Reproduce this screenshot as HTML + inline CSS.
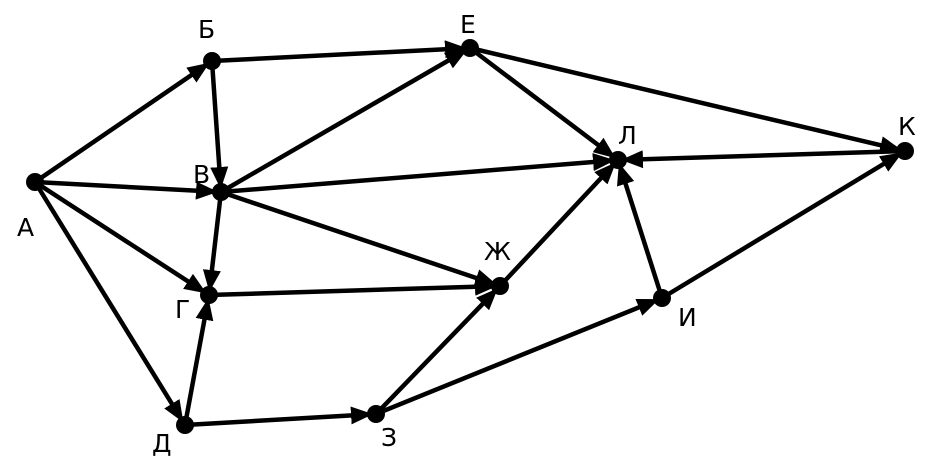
<!DOCTYPE html>
<html><head><meta charset="utf-8"><style>
html,body{margin:0;padding:0;background:#fff;}
svg{display:block}
text{font-family:"DejaVu Sans","Liberation Sans",sans-serif;font-size:25px;fill:#000}
</style></head><body>
<svg width="929" height="466" viewBox="0 0 929 466">
<defs>
<marker id="a" markerUnits="userSpaceOnUse" markerWidth="30" markerHeight="18" refX="25" refY="9" orient="auto">
<path d="M0,0 L22,9 L0,18 Z" fill="#000"/>
</marker>
</defs>
<g stroke="#000" stroke-width="4.5" marker-end="url(#a)">
<line x1="35" y1="182" x2="212" y2="61"/>
<line x1="35" y1="182" x2="221" y2="192"/>
<line x1="35" y1="182" x2="209" y2="295"/>
<line x1="35" y1="182" x2="185" y2="425"/>
<line x1="212" y1="61" x2="470" y2="48"/>
<line x1="212" y1="61" x2="221" y2="192"/>
<line x1="221" y1="192" x2="470" y2="48"/>
<line x1="221" y1="192" x2="618" y2="160"/>
<line x1="221" y1="192" x2="500" y2="286"/>
<line x1="221" y1="192" x2="209" y2="295"/>
<line x1="470" y1="48" x2="618" y2="160"/>
<line x1="470" y1="48" x2="905" y2="151"/>
<line x1="209" y1="295" x2="500" y2="286"/>
<line x1="185" y1="425" x2="209" y2="295"/>
<line x1="185" y1="425" x2="376" y2="414"/>
<line x1="376" y1="414" x2="500" y2="286"/>
<line x1="376" y1="414" x2="662" y2="298"/>
<line x1="500" y1="286" x2="618" y2="160"/>
<line x1="662" y1="298" x2="618" y2="160"/>
<line x1="662" y1="298" x2="905" y2="151"/>
<line x1="905" y1="151" x2="618" y2="160"/>
</g>
<g fill="#000">
<circle cx="35" cy="182" r="9"/><circle cx="212" cy="61" r="9"/><circle cx="470" cy="48" r="9"/>
<circle cx="221" cy="192" r="9"/><circle cx="618" cy="160" r="9"/><circle cx="905" cy="151" r="9"/>
<circle cx="500" cy="286" r="9"/><circle cx="209" cy="295" r="9"/><circle cx="662" cy="298" r="9"/>
<circle cx="185" cy="425" r="9"/><circle cx="376" cy="414" r="9"/>
</g>
<text x="198" y="38">Б</text>
<text x="460" y="33">Е</text>
<text x="17" y="236">А</text>
<text x="193" y="183">В</text>
<text x="618" y="144">Л</text>
<text x="898" y="135">К</text>
<text x="484" y="260">Ж</text>
<text x="175" y="318">Г</text>
<text x="678" y="326">И</text>
<text x="152" y="452">Д</text>
<text x="381" y="446">З</text>
</svg>
</body></html>
